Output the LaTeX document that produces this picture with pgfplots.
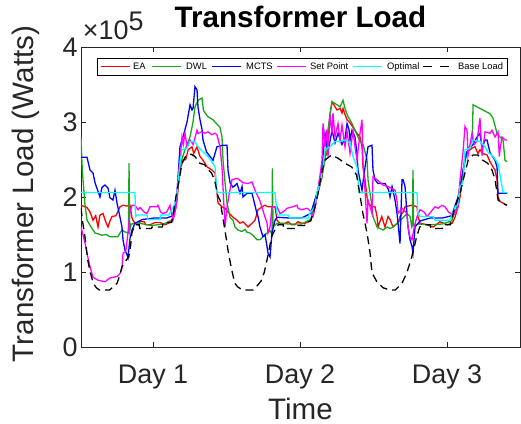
\documentclass[border=0pt]{standalone}
\usepackage{fontspec}
\setmainfont{Liberation Sans}
\usepackage{pgfplots}
\pgfplotsset{compat=1.18}
\definecolor{mred}{rgb}{1,0,0}
\definecolor{mgreen}{rgb}{0.1,0.65,0.1}
\definecolor{mblue}{rgb}{0,0,1}
\definecolor{mmag}{rgb}{1,0,1}
\definecolor{mcyan}{rgb}{0,1,1}
\definecolor{axgray}{rgb}{0.15,0.15,0.15}
\newcommand{\legfont}{\fontsize{9.4}{11}\selectfont}

\begin{document}
\begin{tikzpicture}
\begin{axis}[
  width=439bp, height=300bp, scale only axis,
  xmin=0, xmax=71.67, ymin=0, ymax=4,
  xtick={11.76,35.76,59.76}, xticklabels={Day 1,Day 2,Day 3},
  ytick={0,1,2,3,4},
  tick align=inside, tick pos=both, major tick length=5bp,
  axis line style={draw=axgray, line width=0.7bp},
  tick style={draw=axgray, line width=0.7bp},
  ticklabel style={font=\fontsize{27}{30}\selectfont, text=axgray},
  /pgf/number format/assume math mode=true,
  xticklabel style={anchor=base, yshift=-36bp},
  label style={font=\fontsize{29.7}{33}\selectfont, text=axgray},
  xlabel={Time}, ylabel={Transformer Load (Watts)},
  xlabel style={at={(axis description cs:0.5,-0.24)}, anchor=base, inner sep=0pt},
  ylabel style={at={(axis description cs:-0.1093,0.51)}, anchor=base},
  title={Transformer Load},
  title style={font=\fontsize{29.7}{33}\selectfont\bfseries, at={(axis description cs:0.5,1)}, anchor=base, yshift=14bp},
  every axis plot/.append style={line width=1.3bp, mark=none},
]

% EA
\addplot[draw=mred] coordinates {
(0,1.89) (0.98,1.86) (1.47,1.8) (1.96,1.69) (2.4,1.75) (2.78,1.6) (3.1,1.76) (3.59,1.78) (4.08,1.66) (4.41,1.6) (4.73,1.68) (5.06,1.74) (5.7,1.75) (6.37,1.87) (6.86,1.89) (7.5,1.88) (8.0,1.89) (8.33,1.72) (8.49,1.69) (8.82,1.65) (9.31,1.63) (9.63,1.67) (10.3,1.67) (10.6,1.63) (11.27,1.63) (12.1,1.66) (12.9,1.66) (13.7,1.63) (14.53,1.66) (15.2,1.75) (15.67,1.95) (16.16,2.36) (16.65,2.49) (17.1,2.5) (17.5,2.63) (18.12,2.67) (18.4,2.58) (18.94,2.67) (19.43,2.54) (19.92,2.49) (20.6,2.4) (21.39,2.36) (21.88,2.32) (22.2,2.05) (22.37,1.92) (23.02,1.87) (23.51,1.85) (24.0,1.8) (24.82,1.73) (25.47,1.69) (25.96,1.65) (26.45,1.67) (27.27,1.6) (27.92,1.65) (28.41,1.69) (28.9,1.83) (29.55,1.87) (30.04,1.89) (30.53,1.87) (31.67,1.87) (32.0,1.69) (32.49,1.65) (33.3,1.65) (33.8,1.67) (34.4,1.63) (34.9,1.63) (35.4,1.67) (36.1,1.65) (36.6,1.65) (37.4,1.68) (38.0,1.8) (38.69,2.05) (39.35,2.27) (39.84,2.54) (40.16,2.58) (40.65,3.1) (40.98,3.27) (41.14,3.25) (41.8,3.16) (42.29,3.18) (42.61,3.12) (42.78,3.18) (43.1,3.1) (43.43,3.03) (43.92,2.99) (44.41,2.93) (45.06,2.85) (45.55,2.8) (45.88,2.67) (46.04,2.4) (46.37,2.23) (46.69,2.0) (46.86,1.92) (47.51,1.87) (48.0,1.87) (48.33,1.74) (48.49,1.6) (49.1,1.74) (49.63,1.6) (50.12,1.74) (50.45,1.7) (50.94,1.6) (51.8,1.66) (52.08,1.74) (52.57,1.8) (52.9,1.87) (54.04,1.89) (54.86,1.87) (55.0,1.74) (55.35,1.65) (56.49,1.63) (57.5,1.6) (58.6,1.67) (59.8,1.63) (60.6,1.65) (61.1,1.74) (61.55,1.87) (61.88,2.0) (62.2,2.23) (62.69,2.54) (63.02,2.6) (63.84,2.65) (64.33,2.67) (64.8,2.58) (65.14,2.63) (65.6,2.58) (66.29,2.56) (66.78,2.47) (67.27,2.4) (67.59,2.36) (67.92,2.23) (68.08,2.0) (68.41,1.94) (68.9,1.92) (69.55,1.89)
};

% DWL
\addplot[draw=mgreen] coordinates {
(0,2.8) (0.16,2.45) (0.33,2.23) (0.65,1.9) (0.98,1.69) (1.5,1.62) (1.8,1.58) (2.3,1.52) (3.1,1.5) (3.43,1.49) (4.1,1.5) (4.73,1.47) (6.0,1.47) (6.69,1.56) (7.3,1.53) (7.75,1.52) (7.84,2.45) (7.95,1.55) (8.2,1.64) (9.5,1.65) (11.5,1.62) (13.5,1.64) (15.0,1.7) (15.67,2.0) (16.16,2.4) (16.65,2.55) (17.31,2.7) (17.8,2.8) (18.29,3.0) (18.61,3.2) (19.1,3.29) (19.76,3.32) (20.0,3.15) (20.73,3.07) (21.55,3.03) (22.2,2.97) (22.69,2.93) (23.02,2.8) (23.18,2.5) (23.51,2.2) (23.84,1.92) (24.33,1.73) (24.82,1.69) (25.14,1.6) (25.63,1.56) (26.29,1.54) (26.78,1.57) (27.1,1.53) (27.59,1.52) (28.08,1.49) (28.73,1.43) (29.22,1.43) (29.71,1.47) (30.37,1.52) (30.9,1.55) (31.18,1.5) (31.25,2.38) (31.35,1.6) (32.0,1.65) (34,1.64) (36,1.64) (37.5,1.7) (38.5,2.0) (39.35,2.3) (39.84,2.5) (40.33,2.9) (40.65,3.1) (40.98,3.27) (41.8,3.23) (42.29,3.2) (42.78,3.29) (43.1,3.18) (43.6,3.07) (44.24,2.98) (45.06,2.83) (45.55,2.74) (46.04,2.7) (46.37,2.6) (46.69,2.5) (46.86,2.23) (47.51,1.87) (47.67,1.74) (48.33,1.6) (48.82,1.58) (49.31,1.56) (50.0,1.6) (50.45,1.58) (50.94,1.6) (51.6,1.65) (52.3,1.7) (53.22,1.78) (53.71,1.74) (54.0,1.6) (54.1,1.62) (54.2,2.36) (54.3,1.62) (55,1.64) (57,1.63) (59,1.64) (60.5,1.68) (61.3,1.85) (62.0,2.1) (62.7,2.5) (63.3,2.65) (63.9,2.76) (64.0,3.23) (65.63,3.16) (66.78,3.11) (67.27,3.05) (67.92,2.85) (68.41,2.8) (68.9,2.76) (69.22,2.49) (69.55,2.47)
};

% MCTS
\addplot[draw=mblue] coordinates {
(0,2.53) (0.98,2.53) (1.47,2.36) (1.96,2.32) (2.29,2.19) (3.1,2.0) (3.43,2.13) (3.92,2.16) (4.41,2.12) (4.73,1.99) (5.22,1.96) (5.55,2.09) (5.88,1.92) (6.37,1.73) (6.69,1.6) (6.86,1.43) (7.18,1.29) (7.51,1.23) (7.67,1.19) (8.0,1.45) (8.33,1.56) (8.82,1.65) (10,1.7) (12,1.72) (14,1.72) (15.0,1.75) (15.67,2.05) (16.16,2.67) (16.65,2.8) (17.31,3.0) (17.8,3.23) (18.12,3.16) (18.29,3.18) (18.61,3.47) (18.94,3.43) (19.1,3.2) (19.43,3.03) (19.76,2.9) (19.92,2.76) (20.5,2.6) (21.55,2.49) (22.2,2.67) (23.18,2.69) (23.84,2.69) (24.0,2.36) (24.33,2.19) (24.82,2.13) (25.47,2.18) (25.96,2.05) (26.29,2.14) (26.45,2.0) (27.1,2.05) (27.92,2.05) (28.73,1.78) (28.9,1.74) (29.22,1.6) (29.71,1.47) (30.04,1.5) (30.37,1.34) (30.53,1.25) (30.86,1.2) (31.18,1.52) (31.67,1.69) (32.0,1.73) (34,1.72) (36,1.72) (37.5,1.78) (38.7,2.1) (39.35,2.4) (39.84,2.85) (40.33,2.6) (40.98,2.89) (41.47,2.72) (41.96,2.85) (42.61,2.7) (43.1,2.78) (43.43,2.98) (43.75,2.9) (43.92,2.76) (44.24,2.89) (44.73,2.8) (45.06,2.58) (45.22,2.36) (45.88,2.09) (46.2,2.3) (46.86,2.67) (47.51,2.69) (47.67,2.36) (48.0,2.23) (48.49,2.18) (49.63,2.18) (50.2,2.1) (50.45,2.0) (50.78,2.14) (51.27,1.96) (51.59,1.78) (51.76,1.65) (52.08,1.38) (52.41,2.23) (52.57,2.23) (52.9,2.14) (53.2,1.8) (53.39,1.6) (53.71,1.43) (54.04,1.34) (54.2,1.25) (54.53,1.6) (55.35,1.68) (57,1.72) (59,1.72) (60.5,1.75) (61.55,2.0) (62.37,2.36) (63.0,2.6) (64.0,2.7) (64.65,2.8) (65.14,2.85) (65.47,2.65) (65.96,2.76) (66.29,2.76) (66.78,2.59) (67.59,2.49) (67.92,2.4) (68.08,2.05) (69.55,2.05)
};

% Set Point
\addplot[draw=mmag] coordinates {
(0,1.6) (0.65,1.39) (0.98,1.25) (1.47,1.07) (1.96,0.93) (2.78,0.89) (3.92,0.87) (4.73,0.92) (5.88,0.94) (6.37,0.98) (6.69,1.05) (6.86,1.25) (7.3,1.27) (7.67,1.52) (8.0,1.8) (8.33,1.89) (8.82,1.89) (9.31,1.83) (9.63,1.86) (10.3,1.8) (10.78,1.78) (11.27,1.87) (12.41,1.87) (12.57,1.89) (13.0,1.8) (13.39,1.78) (14.0,1.8) (14.53,1.89) (15.02,1.69) (15.5,1.85) (15.84,2.23) (16.16,2.49) (16.49,2.8) (16.7,2.7) (16.98,2.85) (17.31,2.67) (17.8,2.76) (18.3,2.7) (18.94,2.89) (19.1,2.85) (19.76,2.87) (20.24,2.85) (20.73,2.87) (21.39,2.83) (21.88,2.85) (22.2,2.83) (22.69,2.67) (23.02,2.4) (23.18,2.14) (23.51,1.6) (23.84,1.87) (24.33,2.1) (24.65,2.23) (25.47,2.25) (26.0,2.22) (26.45,2.19) (27.27,2.18) (27.92,2.2) (28.41,2.09) (29.22,1.95) (29.5,1.87) (30.37,1.65) (30.53,1.52) (30.86,1.6) (31.18,1.87) (32.0,1.87) (32.49,1.78) (33.0,1.8) (33.63,1.85) (34.61,1.87) (35.27,1.89) (35.43,1.85) (36.0,1.83) (36.9,1.85) (37.4,1.82) (37.88,1.74) (38.2,1.85) (38.69,2.09) (39.35,2.49) (39.51,2.98) (39.84,2.67) (40.16,2.9) (40.33,2.54) (40.65,3.1) (40.98,2.85) (41.14,3.12) (41.47,2.8) (41.96,2.98) (42.29,2.76) (42.61,2.96) (43.1,2.67) (43.43,2.88) (43.92,2.58) (44.41,2.89) (44.73,2.67) (45.06,2.49) (45.55,2.85) (45.88,3.03) (46.04,2.45) (46.37,2.09) (46.69,1.65) (46.86,1.96) (47.51,1.78) (47.67,2.27) (48.33,2.23) (49.31,2.16) (50.12,2.14) (51.27,2.09) (51.6,1.95) (51.76,1.78) (52.4,1.85) (53.22,1.78) (53.39,1.6) (53.71,1.47) (54.04,1.43) (54.4,1.6) (54.86,1.74) (55.35,1.83) (56.0,1.8) (56.49,1.74) (57.3,1.82) (57.8,1.87) (58.29,1.85) (58.94,1.89) (59.43,1.87) (60.0,1.8) (60.73,1.76) (61.2,1.8) (61.55,1.87) (61.88,2.23) (62.37,2.6) (62.69,2.94) (63.02,2.89) (63.18,2.55) (63.84,2.85) (64.2,2.7) (64.65,2.75) (65.14,3.05) (65.47,2.55) (65.96,2.87) (66.78,2.85) (67.1,2.89) (67.59,2.8) (68.08,2.87) (68.3,2.54) (68.41,2.63) (68.73,2.8) (69.22,2.76) (69.55,2.76)
};

% Optimal
\addplot[draw=mcyan] coordinates {
(0,2.06) (8.82,2.06) (8.9,1.74) (9.14,1.76) (10.78,1.76) (10.9,1.7) (12.9,1.7) (13.0,1.76) (14.2,1.76) (14.53,1.78) (15.35,1.92) (15.67,2.05) (15.84,2.18) (16.16,2.45) (16.49,2.63) (17.31,2.65) (17.8,2.74) (18.61,2.74) (19.1,2.67) (19.92,2.6) (20.73,2.54) (21.39,2.47) (21.88,2.4) (22.2,2.06) (31.67,2.06) (32.0,1.78) (32.2,1.76) (33.8,1.76) (34.1,1.72) (37.1,1.72) (37.3,1.78) (38.2,1.87) (38.5,2.05) (39.0,2.18) (39.5,2.4) (39.84,2.63) (40.65,2.67) (41.47,2.74) (42.29,2.74) (43.1,2.76) (43.92,2.72) (44.41,2.54) (45.06,2.4) (45.22,2.23) (45.4,2.06) (54.86,2.06) (55.0,1.78) (55.35,1.74) (57.5,1.74) (57.8,1.69) (60.2,1.69) (60.6,1.76) (61.1,1.87) (61.5,1.9) (61.88,2.14) (62.37,2.2) (62.69,2.63) (63.51,2.65) (64.0,2.76) (65.14,2.74) (65.96,2.67) (66.4,2.6) (67.27,2.54) (68.08,2.45) (68.6,2.2) (68.9,2.06) (69.55,2.06)
};

% Base Load
\addplot[draw=black, dash pattern=on 8bp off 5bp] coordinates {
(0,1.85) (0.3,1.65) (0.65,1.47) (1.1,1.16) (1.5,1.0) (2.0,0.85) (2.5,0.79) (3.0,0.76) (4.7,0.76) (5.2,0.8) (5.9,0.85) (6.3,0.95) (6.7,1.07) (7.3,1.15) (7.8,1.2) (8.1,1.35) (8.3,1.52) (8.8,1.63) (9.5,1.63) (9.6,1.58) (11.5,1.58) (11.6,1.6) (13.3,1.6) (13.4,1.66) (14.8,1.66) (15.1,1.8) (15.6,2.05) (16.1,2.27) (16.5,2.45) (17.2,2.56) (18.0,2.57) (18.6,2.54) (19.4,2.45) (20.2,2.43) (20.8,2.36) (21.3,2.32) (21.8,2.23) (22.4,2.0) (22.7,1.96) (23.2,1.7) (23.5,1.56) (24.0,1.29) (24.5,1.07) (25.1,0.85) (25.6,0.8) (26.4,0.76) (28.1,0.76) (28.8,0.82) (29.4,0.88) (29.9,0.99) (30.6,1.25) (31.1,1.47) (31.9,1.6) (32.2,1.63) (33.0,1.63) (33.1,1.58) (35.0,1.58) (35.1,1.62) (36.5,1.62) (36.6,1.66) (37.5,1.68) (38.2,1.87) (38.7,2.05) (39.3,2.32) (39.8,2.49) (40.9,2.56) (41.9,2.52) (43.1,2.45) (44.2,2.4) (45.0,2.29) (45.5,2.05) (46.0,1.79) (46.7,1.52) (47.2,1.25) (47.5,0.99) (48.3,0.87) (49.3,0.79) (50.4,0.76) (51.3,0.76) (52.4,0.85) (53.2,0.99) (54.0,1.2) (54.8,1.47) (55.3,1.6) (56.0,1.63) (57.0,1.63) (57.1,1.58) (59.0,1.58) (59.1,1.63) (60.3,1.63) (60.5,1.7) (61.0,1.85) (61.9,2.05) (62.4,2.23) (63.2,2.49) (64.0,2.56) (64.8,2.56) (65.6,2.49) (66.4,2.45) (67.1,2.36) (67.6,2.23) (68.1,1.96) (68.7,1.92) (69.5,1.89)
};
\end{axis}
\node[anchor=base west, inner sep=0pt, font=\fontsize{27}{30}\selectfont, text=axgray]
  at ([xshift=1.8bp,yshift=7bp]current axis.north west) {×10\raisebox{9bp}{5}};

% legend, one row, drawn in bp from the axis' lower left corner
\begin{scope}[shift={(current axis.south west)}]
  \draw[black, line width=0.6bp, fill=white] (16bp,272bp) rectangle (426bp,289bp);
  \draw[mred, line width=1.3bp] (20bp,280.5bp) -- (49bp,280.5bp);
  \node[anchor=base west, inner sep=0pt, font=\legfont] at (52bp,277bp) {EA};
  \draw[mgreen, line width=1.3bp] (71bp,280.5bp) -- (100bp,280.5bp);
  \node[anchor=base west, inner sep=0pt, font=\legfont] at (105bp,277bp) {DWL};
  \draw[mblue, line width=1.3bp] (131bp,280.5bp) -- (160bp,280.5bp);
  \node[anchor=base west, inner sep=0pt, font=\legfont] at (165bp,277bp) {MCTS};
  \draw[mmag, line width=1.3bp] (196bp,280.5bp) -- (225bp,280.5bp);
  \node[anchor=base west, inner sep=0pt, font=\legfont] at (229bp,277bp) {Set Point};
  \draw[mcyan, line width=1.3bp] (272bp,280.5bp) -- (301bp,280.5bp);
  \node[anchor=base west, inner sep=0pt, font=\legfont] at (306bp,277bp) {Optimal};
  \draw[black, line width=1.3bp, dash pattern=on 9bp off 8bp] (342bp,280.5bp) -- (371bp,280.5bp);
  \node[anchor=base west, inner sep=0pt, font=\legfont] at (377bp,277bp) {Base Load};
\end{scope}

\pgfresetboundingbox
\path[use as bounding box] ([xshift=-81bp,yshift=-77bp]current axis.south west)
  rectangle ([xshift=1bp,yshift=47bp]current axis.north east);
\end{tikzpicture}
\end{document}
